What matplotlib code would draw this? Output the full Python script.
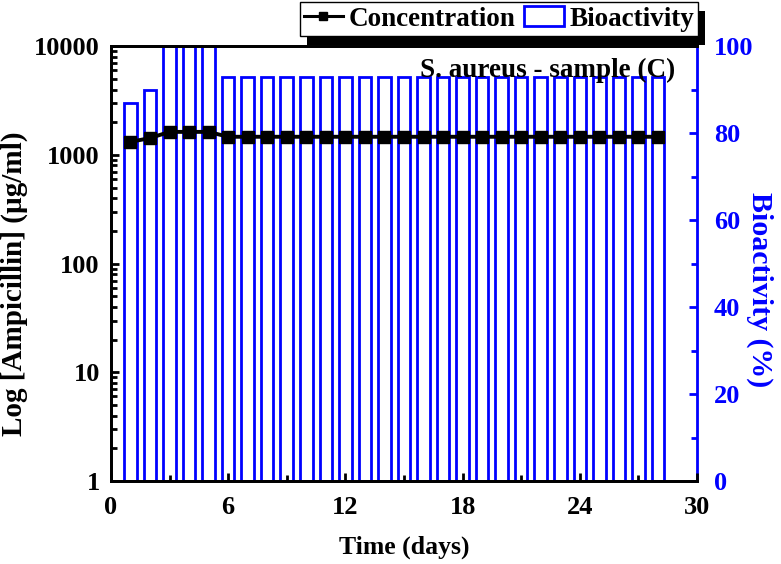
import matplotlib.pyplot as plt
import numpy as np
from matplotlib.ticker import FixedLocator, NullFormatter
from matplotlib.lines import Line2D
from matplotlib.patches import Patch, Rectangle

plt.rcParams['font.family'] = ['Liberation Serif', 'DejaVu Serif']
plt.rcParams['font.weight'] = 'bold'

# data
days = list(range(1, 29))
concentration = [1320, 1430, 1630, 1630, 1630] + [1470] * 23
bioactivity = [87, 90, 100, 100, 100] + [93] * 23

fig = plt.figure(figsize=(7.81, 5.64), dpi=100)
ax = fig.add_axes([0.142, 0.147, 0.7505, 0.771])
ax2 = ax.twinx()

# bars on right axis
ax2.bar(days, bioactivity, width=0.64, facecolor='none', edgecolor='#0000ff',
        linewidth=2)
ax2.set_ylim(0, 100)
ax2.set_yticks([0, 20, 40, 60, 80, 100])
ax2.yaxis.set_minor_locator(FixedLocator([10, 30, 50, 70, 90]))
ax2.set_ylabel('Bioactivity (%)', color='#0000ff', fontsize=21.5, fontweight='bold',
               rotation=270, va='center')
ax2.yaxis.set_label_coords(1.107, 0.44)
ax2.tick_params(axis='y', which='both', direction='in', colors='#0000ff', labelsize=19,
                width=2, pad=12)
ax2.tick_params(axis='y', which='major', length=6)
ax2.tick_params(axis='y', which='minor', length=4)
for s in ax2.spines.values():
    s.set_linewidth(2)
ax2.spines['right'].set_color('#0000ff')

# concentration line on left axis, drawn above bars
ax.set_zorder(ax2.get_zorder() + 1)
ax.patch.set_visible(False)
ax.plot(days, concentration, color='black', marker='s', markersize=8.5,
        linewidth=2.8)
ax.set_yscale('log')
ax.set_ylim(1, 10000)
ax.set_yticks([1, 10, 100, 1000, 10000])
ax.set_yticklabels(['1', '10', '100', '1000', '10000'])
ax.yaxis.set_minor_formatter(NullFormatter())
ax.set_xlim(0, 30)
ax.set_xticks([0, 6, 12, 18, 24, 30])
ax.xaxis.set_minor_locator(FixedLocator([3, 9, 15, 21, 27]))
ax.tick_params(which='both', direction='in', labelsize=19, width=2)
ax.tick_params(which='major', length=6)
ax.tick_params(which='minor', length=4)
ax.tick_params(axis='x', pad=11)
ax.tick_params(axis='y', pad=8)
for s in ax.spines.values():
    s.set_linewidth(2)
ax.spines['right'].set_visible(False)
ax.set_xlabel('Time (days)', fontsize=18.5, fontweight='bold', labelpad=12)
ax.set_ylabel('Log [Ampicillin] (µg/ml)', fontsize=21, fontweight='bold', va='center')
ax.yaxis.set_label_coords(-0.165, 0.453)

ax.text(0.963, 0.945, 'S. aureus - sample (C)', transform=ax.transAxes, ha='right',
        va='center', fontsize=19.5, fontweight='bold')

h_conc = Line2D([], [], color='black', marker='s', markersize=5.5, linewidth=2.2)
h_bio = Patch(facecolor='none', edgecolor='#0000ff', linewidth=2)
leg = fig.legend([h_conc, h_bio], ['Concentration', 'Bioactivity'], loc='upper right',
                 bbox_to_anchor=(0.8937, 0.996), ncol=2, fancybox=False, shadow=False,
                 frameon=True, edgecolor='black', prop={'size': 19.5, 'weight': 'bold'},
                 handlelength=1.45, handleheight=0.75, columnspacing=0.35,
                 handletextpad=0.2, borderpad=0.15, borderaxespad=0, framealpha=1)
leg.get_frame().set_linewidth(1)
leg.set_zorder(5)

# black drop shadow behind the legend box
fig.canvas.draw()
bb = leg.get_window_extent()
fig.patches.append(Rectangle((bb.x0 + 7, bb.y0 - 9), bb.width, bb.height, transform=None,
                             facecolor='black', edgecolor='none', zorder=4))

fig.savefig('out.png', dpi=100)
